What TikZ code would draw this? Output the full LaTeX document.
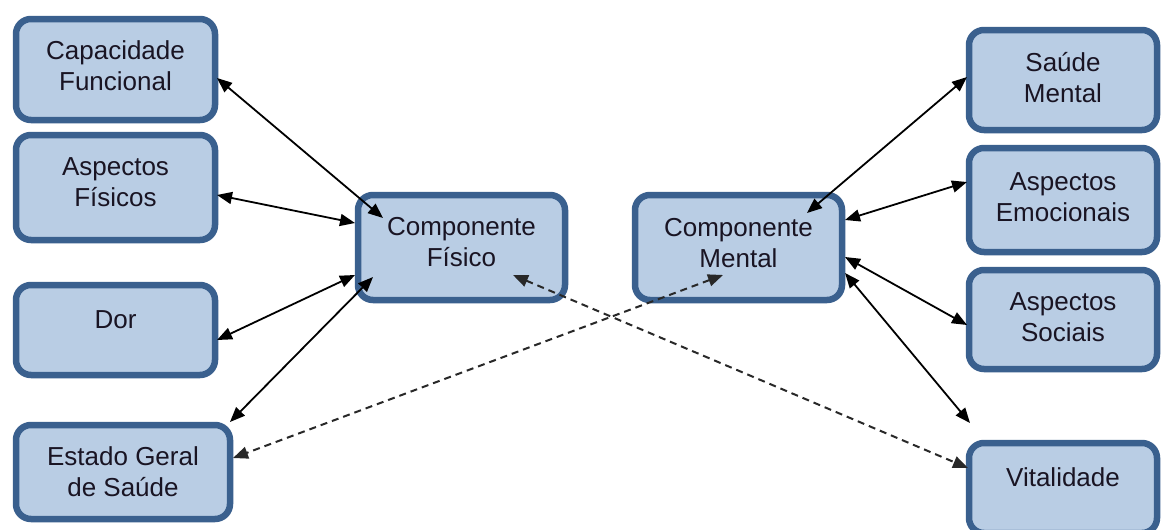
\documentclass[tikz,border=0pt]{standalone}
\usepackage{fontspec}
\setmainfont{Liberation Sans}
\usetikzlibrary{arrows.meta}
\definecolor{boxfill}{RGB}{185,205,228}
\definecolor{boxline}{RGB}{58,96,142}
\definecolor{txtcol}{RGB}{25,20,35}
\definecolor{dashcol}{RGB}{40,40,40}
\begin{document}
\begin{tikzpicture}[x=1pt,y=-1pt,
  boxnode/.style={draw=boxline,fill=boxfill,line width=6.5pt,rounded corners=15pt,
    inner sep=0pt,minimum width=#1},
  boxnode/.default=199pt,
  txtnode/.style={text=txtcol,align=center,inner sep=0pt,
    font=\fontsize{26}{31}\selectfont},
  link/.style={line width=1.8pt,{Triangle[length=15pt,width=12pt]}-{Triangle[length=15pt,width=12pt]}},
  dlink/.style={line width=2pt,draw=dashcol,dash pattern=on 7pt off 5pt,
    {Triangle[length=15pt,width=12pt]}-{Triangle[length=15pt,width=12pt]}}]
\useasboundingbox (0,0) rectangle (1162,530);
\fill[white] (0,0) rectangle (1162,530);
% left boxes
\node[boxnode,minimum height=101pt] (capf) at (115.5,69.5) {};
\node[boxnode,minimum height=105pt] (aspf) at (115.5,187.5) {};
\node[boxnode,minimum height=90pt] (dor) at (115.5,330) {};
\node[boxnode=214pt,minimum height=94pt] (estado) at (123,472) {};
% central boxes
\node[boxnode=207pt,minimum height=105pt] (cf) at (461.5,247.5) {};
\node[boxnode=207pt,minimum height=105pt] (cm) at (738.5,247.5) {};
% right boxes
\node[boxnode=188pt,minimum height=100pt] (sm) at (1063,80) {};
\node[boxnode=188pt,minimum height=104pt] (ae) at (1063,200) {};
\node[boxnode=188pt,minimum height=99pt] (as) at (1063,319.5) {};
\node[boxnode=188pt,minimum height=90pt] (vit) at (1063,488) {};
% texts
\node[txtnode] (capft) at ([yshift=3.5pt]capf.center) {Capacidade\\Funcional};
\node[txtnode] (aspft) at ([yshift=5pt]aspf.center) {Aspectos\\Físicos};
\node[txtnode] (dort) at ([yshift=10pt]dor.center) {Dor};
\node[txtnode] (estadot) at ([yshift=0.5pt]estado.center) {Estado Geral\\de Saúde};
\node[txtnode] (cft) at ([yshift=5.5pt]cf.center) {Componente\\Físico};
\node[txtnode] (cmt) at ([yshift=4pt]cm.center) {Componente\\Mental};
\node[txtnode] (smt) at ([yshift=2.5pt]sm.center) {Saúde\\Mental};
\node[txtnode] (aet) at ([yshift=2.5pt]ae.center) {Aspectos\\Emocionais};
\node[txtnode] (ast) at ([yshift=2.5pt]as.center) {Aspectos\\Sociais};
\node[txtnode] (vitt) at ([yshift=11pt]vit.center) {Vitalidade};
\coordinate (vitup) at (970,423);
% solid links
\draw[link] ([shift={(101.5,8.5)}]capf.center) -- ([shift={(-78.5,-29.5)}]cf.center);
\draw[link] ([shift={(101.5,7.5)}]aspf.center) -- ([shift={(-106.5,-24.5)}]cf.center);
\draw[link] ([shift={(101.5,10)}]dor.center) -- ([shift={(-106.5,27.5)}]cf.center);
\draw[link] ([shift={(107,-50)}]estado.center) -- ([shift={(-88.5,29.5)}]cf.center);
\draw[link] ([shift={(-96,-3)}]sm.center) -- ([shift={(68.5,-34.5)}]cm.center);
\draw[link] ([shift={(-96,-18)}]ae.center) -- ([shift={(106.5,-27.5)}]cm.center);
\draw[link] ([shift={(-96,5.5)}]as.center) -- ([shift={(106.5,9.5)}]cm.center);
\draw[link] ([shift={(106.5,25.5)}]cm.center) -- (vitup);
% dashed links
\draw[dlink] ([shift={(51.5,27.5)}]cf.center) -- ([shift={(-95,-20)}]vit.center);
\draw[dlink] ([shift={(-15.5,27.5)}]cm.center) -- ([shift={(110,-14)}]estado.center);
\end{tikzpicture}
\end{document}
